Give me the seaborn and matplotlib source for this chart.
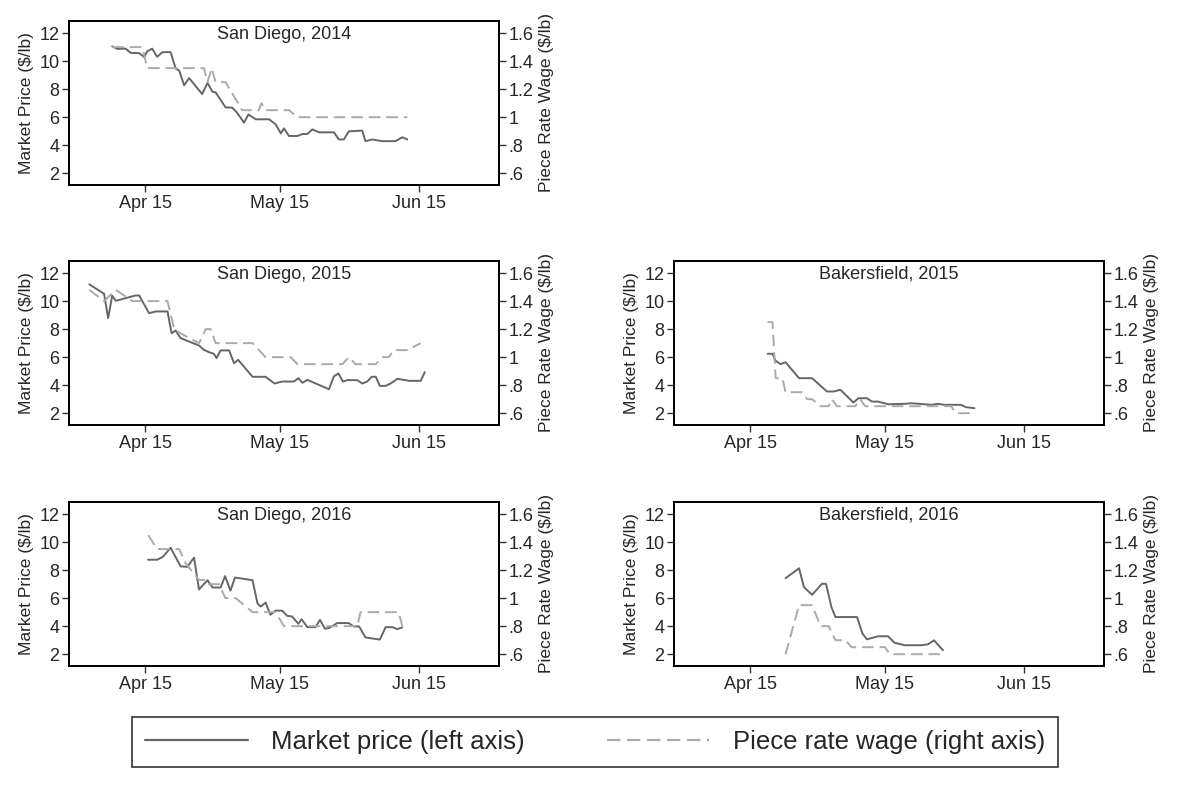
import matplotlib
matplotlib.use("Agg")
import matplotlib.pyplot as plt
import seaborn as sns
from matplotlib.lines import Line2D

# days measured from April 15
sd14_day = [-7.3, -6.1, -4.3, -3.2, -1.3, -0.2, 0.5, 1.6, 2.7, 3.9, 5.7, 6.8, 7.6, 8.7, 9.8, 12.7, 13.9,
            15.0, 15.7, 17.9, 19.4, 20.5, 22.0, 23.0, 24.6, 27.6, 29.0, 30.2, 30.9, 32.0, 33.9, 35.0, 36.1,
            37.2, 38.7, 42.0, 43.1, 44.2, 45.3, 48.3, 49.0, 50.5, 52.7, 55.7, 57.2, 58.3]
sd14_price = [11.05, 10.87, 10.89, 10.59, 10.57, 10.29, 10.7, 10.89, 10.31, 10.64, 10.64, 9.48, 9.32, 8.28,
              8.79, 7.65, 8.44, 7.81, 7.77, 6.70, 6.68, 6.31, 5.61, 6.19, 5.85, 5.85, 5.50, 4.85, 5.20, 4.66,
              4.66, 4.80, 4.80, 5.13, 4.92, 4.92, 4.41, 4.41, 4.99, 5.04, 4.29, 4.41, 4.29, 4.29, 4.57, 4.41]
sd14_wday = [-7.3, -0.6, 0.5, 13.1, 13.9, 14.8, 15.7, 17.9, 21.6, 25.3, 25.9, 26.8, 32.0, 33.9, 58.3]
sd14_wage = [1.5, 1.5, 1.35, 1.35, 1.25, 1.35, 1.25, 1.25, 1.05, 1.05, 1.1, 1.05, 1.05, 1.0, 1.0]

sd15_day = [-12.4, -9.1, -8.2, -7.3, -6.5, -2.1, -1.3, 0.9, 2.4, 5.0, 5.9, 6.8, 7.9, 12.0, 13.1, 14.2,
            15.3, 15.9, 16.8, 18.7, 19.8, 20.7, 23.9, 26.8, 28.8, 30.5, 33.1, 34.1, 35.0, 36.1, 40.9, 42.0,
            43.0, 44.0, 45.0, 47.2, 48.3, 49.4, 50.4, 51.3, 52.2, 53.5, 54.6, 56.1, 57.6, 58.7, 61.3, 62.2]
sd15_price = [11.2, 10.52, 8.79, 10.38, 10.02, 10.4, 10.4, 9.14, 9.26, 9.26, 7.71, 7.9, 7.36, 6.83, 6.52,
              6.36, 6.24, 5.93, 6.48, 6.48, 5.57, 5.81, 4.6, 4.6, 4.12, 4.26, 4.26, 4.5, 4.17, 4.38, 3.71,
              4.64, 4.83, 4.26, 4.36, 4.36, 4.12, 4.26, 4.6, 4.6, 3.95, 3.95, 4.12, 4.45, 4.38, 4.31, 4.31,
              4.93]
sd15_wday = [-12.4, -9.1, -6.5, -2.8, 5.0, 6.5, 7.9, 12.0, 13.5, 14.6, 15.7, 23.9, 26.8, 32.4, 33.9, 43.9,
             45.3, 46.8, 51.3, 52.7, 54.2, 55.3, 58.3, 61.3]
sd15_wage = [1.48, 1.4, 1.48, 1.4, 1.4, 1.2, 1.17, 1.1, 1.2, 1.2, 1.1, 1.1, 1.0, 1.0, 0.95, 0.95, 1.0,
             0.95, 0.95, 1.0, 1.0, 1.05, 1.05, 1.1]

sd16_day = [0.7, 2.7, 3.9, 5.7, 6.8, 7.9, 9.4, 10.9, 12.0, 13.9, 15.0, 16.8, 17.8, 19.0, 20.0, 23.9, 25.0,
            25.7, 26.8, 27.9, 29.0, 30.5, 31.6, 32.7, 34.1, 34.8, 36.1, 37.9, 38.9, 40.0, 40.9, 42.7, 45.3,
            46.4, 47.6, 49.0, 52.2, 53.5, 55.0, 56.1, 57.2]
sd16_price = [8.74, 8.74, 8.93, 9.59, 8.93, 8.27, 8.23, 8.89, 6.62, 7.28, 6.76, 6.76, 7.57, 6.53, 7.47,
              7.28, 5.63, 5.4, 5.68, 4.81, 5.11, 5.11, 4.74, 4.69, 4.17, 4.5, 3.93, 3.93, 4.45, 3.82, 3.86,
              4.22, 4.22, 3.98, 3.98, 3.2, 3.04, 3.93, 3.93, 3.79, 3.91]
sd16_wday = [0.7, 2.7, 7.6, 9.0, 12.0, 13.5, 13.9, 16.4, 17.9, 20.2, 23.9, 29.0, 30.9, 47.2, 47.9, 56.4, 57.2]
sd16_wage = [1.45, 1.35, 1.35, 1.25, 1.13, 1.13, 1.1, 1.1, 1.0, 1.0, 0.9, 0.9, 0.8, 0.8, 0.9, 0.9, 0.8]

bk15_day = [3.9, 5.0, 5.7, 6.8, 7.9, 10.9, 13.8, 17.1, 18.6, 20.1, 23.0, 24.1, 26.0, 27.1, 28.5, 30.7,
            34.4, 35.9, 40.3, 41.8, 43.2, 46.9, 48.0, 49.9]
bk15_price = [6.24, 6.24, 5.74, 5.5, 5.64, 4.5, 4.5, 3.55, 3.55, 3.67, 2.76, 3.07, 3.07, 2.83, 2.83, 2.64,
              2.67, 2.71, 2.6, 2.67, 2.6, 2.6, 2.43, 2.36]
bk15_wday = [3.9, 5.0, 5.7, 7.2, 7.9, 11.6, 12.7, 13.8, 15.7, 17.5, 18.2, 19.3, 23.4, 24.5, 25.6, 44.7,
             45.8, 49.1]
bk15_wage = [1.25, 1.25, 0.85, 0.85, 0.75, 0.75, 0.7, 0.7, 0.65, 0.65, 0.7, 0.65, 0.65, 0.7, 0.65, 0.65,
             0.6, 0.6]

bk16_day = [7.9, 10.9, 12.0, 13.8, 16.0, 16.9, 18.1, 19.0, 23.8, 25.0, 26.0, 28.5, 30.7, 32.1, 34.4,
            38.1, 39.6, 40.9, 42.9]
bk16_price = [7.42, 8.13, 6.78, 6.24, 7.02, 7.02, 5.36, 4.65, 4.65, 3.47, 3.06, 3.28, 3.28, 2.82, 2.64,
              2.64, 2.71, 2.99, 2.28]
bk16_wday = [7.9, 10.9, 13.8, 15.7, 17.5, 19.0, 21.2, 22.6, 30.0, 31.1, 42.9]
bk16_wage = [0.6, 0.95, 0.95, 0.8, 0.8, 0.7, 0.7, 0.65, 0.65, 0.6, 0.6]

tick_days = [0, 30, 61]
tick_labels = ["Apr 15", "May 15", "Jun 15"]
price_ticks = [2, 4, 6, 8, 10, 12]
wage_ticks = [0.6, 0.8, 1.0, 1.2, 1.4, 1.6]
wage_labels = [".6", ".8", "1", "1.2", "1.4", "1.6"]

sns.set_style("ticks")
plt.rcParams["font.family"] = ["Liberation Sans", "DejaVu Sans"]
plt.rcParams["font.size"] = 13

PRICE_COL = "#666666"
WAGE_COL = "#aaaaaa"

fig = plt.figure(figsize=(11.78, 7.86), dpi=100)

panels = [
    ("San Diego, 2014", 69, 0.7646, sd14_day, sd14_price, sd14_wday, sd14_wage),
    ("San Diego, 2015", 69, 0.4593, sd15_day, sd15_price, sd15_wday, sd15_wage),
    ("San Diego, 2016", 69, 0.1527, sd16_day, sd16_price, sd16_wday, sd16_wage),
    ("Bakersfield, 2015", 674, 0.4593, bk15_day, bk15_price, bk15_wday, bk15_wage),
    ("Bakersfield, 2016", 674, 0.1527, bk16_day, bk16_price, bk16_wday, bk16_wage),
]

for title, left_px, bottom, d, p, wd, w in panels:
    ax = fig.add_axes([left_px / 1178, bottom, 430 / 1178, 0.209])
    ax2 = ax.twinx()
    sns.lineplot(x=d, y=p, ax=ax, color=PRICE_COL, lw=1.4, sort=False)
    sns.lineplot(x=wd, y=w, ax=ax2, color=WAGE_COL, lw=1.4, sort=False, linestyle=(0, (6, 3)))
    ax.set_xlim(-16.9, 78.7)
    ax.set_ylim(1.16, 12.88)
    ax2.set_ylim(0.516, 1.688)
    ax.set_xticks(tick_days, tick_labels)
    ax.set_yticks(price_ticks)
    ax2.set_yticks(wage_ticks, wage_labels)
    ax.set_ylabel("Market Price ($/lb)", fontsize=12.5)
    ax2.set_ylabel("Piece Rate Wage ($/lb)", fontsize=12.5)
    ax.text(0.5, 0.97, title, transform=ax.transAxes, ha="center", va="top", fontsize=13)
    for a in (ax, ax2):
        a.tick_params(length=5, width=1, color="#333333", labelsize=13, pad=2)
        for s in a.spines.values():
            s.set_visible(True)
            s.set_linewidth(1.3)
            s.set_color("black")

handles = [Line2D([], [], color=PRICE_COL, lw=1.6),
           Line2D([], [], color=WAGE_COL, lw=1.6, linestyle=(0, (6, 3)))]
leg = fig.legend(handles, ["Market price (left axis)", "Piece rate wage (right axis)"],
                 loc="center", bbox_to_anchor=(0.505, 0.056), ncol=2, fontsize=18.5,
                 frameon=True, fancybox=False, handlelength=4.0, handletextpad=0.9,
                 columnspacing=3.2, borderpad=0.5, edgecolor="black")
leg.get_frame().set_linewidth(1.2)

fig.savefig("out.png", dpi=100)
